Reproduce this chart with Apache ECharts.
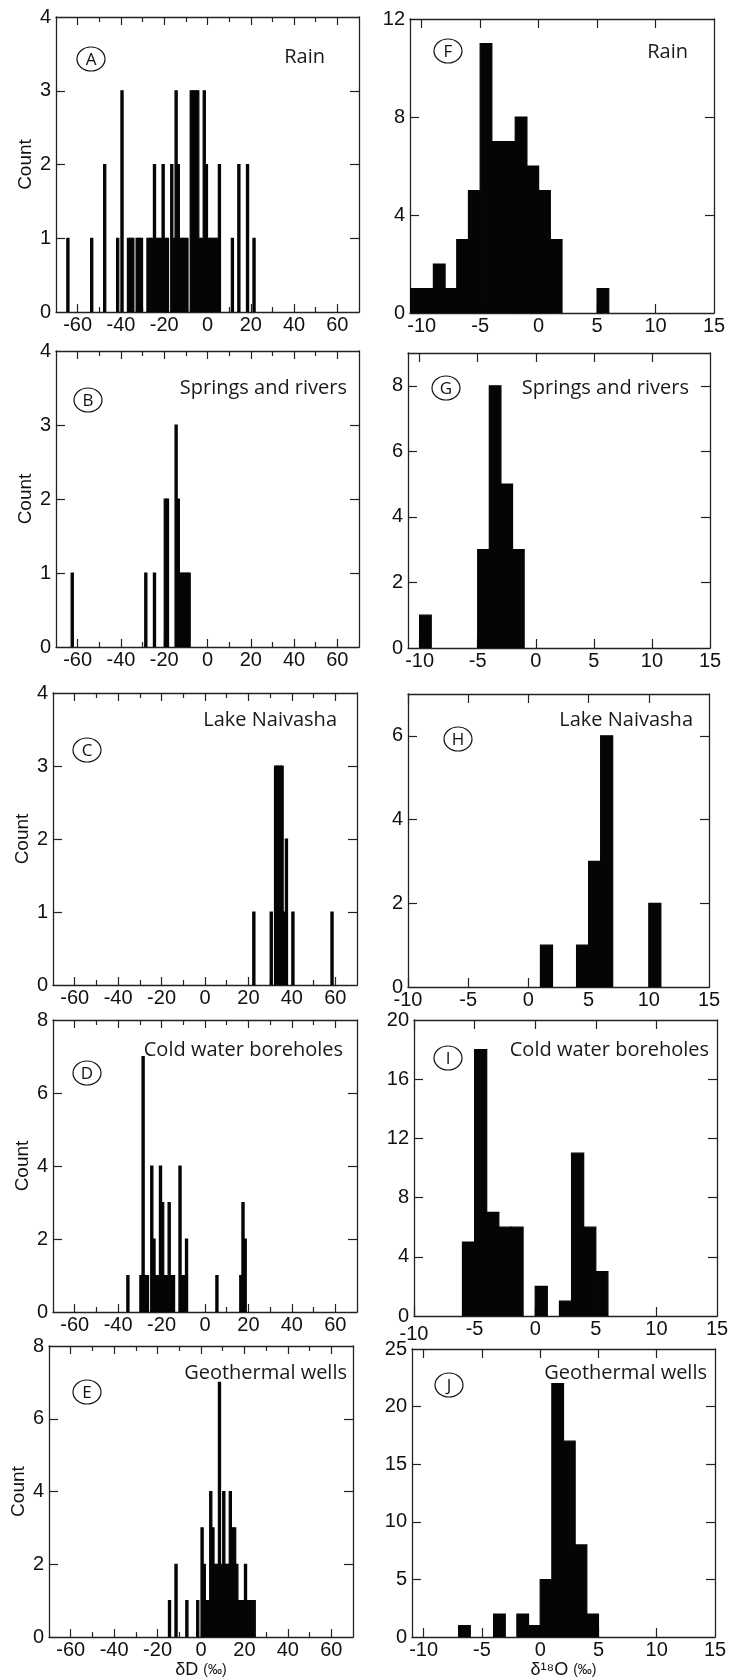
<!DOCTYPE html>
<html><head><meta charset="utf-8">
<script src="https://cdn.jsdelivr.net/npm/echarts@6/dist/echarts.min.js"></script>
<style>html,body{margin:0;padding:0;background:#fff}#c{width:733px;height:1680px}</style>
</head><body><div id="c"></div><script>
// ---------- data (bin left edge, count), bin width = 1 per mil ----------
const rainD_bins   = [-65,-54,-48,-42,-40,-37,-36,-35,-33,-32,-31,-28,-27,-26,-25,-24,-23,-22,-21,-20,-19,-17,-16,-15,-14,-13,-12,-11,-10,-8,-7,-6,-5,-4,-3,-2,-1,0,1,2,3,4,5,11,14,18,21];
const rainD_counts = [  1,  1,  2,  1,  3,  1,  1,  1,  1,  1,  1,  1,  1,  1,  2,  1,  1,  1,  2,  1,  1,  2,  1,  3,  2,  1,  1,  1,  1, 3, 3, 3, 3, 1, 1, 3, 2,1,1,1,1,1,2, 1, 2, 2, 1];
const springsD_bins   = [-63,-29,-25,-20,-19,-15,-14,-13,-12,-11,-10,-9];
const springsD_counts = [  1,  1,  1,  2,  2,  3,  2,  1,  1,  1,  1, 1];
const lakeD_bins   = [22,30,32,33,34,35,36,37,40,58];
const lakeD_counts = [ 1, 1, 3, 3, 3, 3, 1, 2, 1, 1];
const coldD_bins   = [-36,-30,-29,-28,-27,-25,-24,-23,-22,-21,-20,-19,-18,-17,-16,-15,-12,-11,-10,-9,5,16,17,18];
const coldD_counts = [  1,  1,  7,  1,  1,  4,  2,  1,  1,  4,  3,  1,  1,  3,  1,  1,  4,  1,  1, 2,1, 1, 3, 2];
const geoD_bins   = [-15,-12,-7,-2,0,1,2,3,4,5,6,7,8,9,10,11,12,13,14,15,16,17,18,19,20,21,22,23,24];
const geoD_counts = [  1,  2, 1, 1,3,2,1,1,4,3,2,2,7,2, 4, 2, 2, 4, 3, 3, 2, 1, 1, 1, 2, 1, 1, 1, 1];

const rainO_bins   = [-11,-10,-9,-8,-7,-6,-5,-4,-3,-2,-1,0,1,5];
const rainO_counts = [  1,  1, 2, 1, 3, 5,11, 7, 7, 8, 6,5,3,1];
const springsO_bins   = [-10,-5,-4,-3,-2];
const springsO_counts = [  1, 3, 8, 5, 3];
const lakeO_bins   = [1,4,5,6,10];
const lakeO_counts = [1,1,3,6, 2];
const coldO_bins   = [-6,-5,-4,-3,-2,0,2, 3,4,5];
const coldO_counts = [ 5,18, 7, 6, 6,2,1,11,6,3];
const geoO_bins   = [-7,-4,-2,-1,0, 1, 2,3,4];
const geoO_counts = [ 1, 2, 2, 1,5,22,17,8,2];

// ---------- tick labels ----------
const dTickLabels = [-60,-40,-20,0,20,40,60];
const dMajorTicks = [-60,-40,-20,0,20,40,60];
const dMinorTicks = [-50,-30,-10,10,30,50];
const oTickLabels = [-10,-5,0,5,10,15];
const oTicks      = [-10,-5,0,5,10];
const yLabels4 = [0,1,2,3,4],        yTicks4 = [1,2,3];
const yLabels8 = [0,2,4,6,8],        yTicks8 = [2,4,6];
const yLabelsF = [0,4,8,12],         yTicksF = [4,8];
const yLabelsG = [0,2,4,6,8],        yTicksG = [2,4,6,8];
const yLabelsH = [0,2,4,6],          yTicksH = [2,4,6];
const yLabelsI = [0,4,8,12,16,20],   yTicksI = [4,8,12,16];
const yLabelsJ = [0,5,10,15,20,25],  yTicksJ = [5,10,15,20];

const sampleNames = ['Rain','Springs and rivers','Lake Naivasha','Cold water boreholes','Geothermal wells'];
const letters = ['A','B','C','D','E','F','G','H','I','J'];

// ---------- layout ----------
const panels = [
  {bins:rainD_bins, counts:rainD_counts, box:[56,17,303,295], xr:[-70,70], d:true, ymax:4, yl:yLabels4, yt:yTicks4, name:0, tpos:[325,57], cpos:[91,59]},
  {bins:springsD_bins, counts:springsD_counts, box:[56,351,303,296], xr:[-70,70], d:true, ymax:4, yl:yLabels4, yt:yTicks4, name:1, tpos:[347,388], cpos:[88,400]},
  {bins:lakeD_bins, counts:lakeD_counts, box:[53,693,304,292], xr:[-70,70], d:true, ymax:4, yl:yLabels4, yt:yTicks4, name:2, tpos:[337,720], cpos:[87,750]},
  {bins:coldD_bins, counts:coldD_counts, box:[53,1020,304,292], xr:[-70,70], d:true, ymax:8, yl:yLabels8, yt:yTicks8, name:3, tpos:[343,1050], cpos:[87,1073]},
  {bins:geoD_bins, counts:geoD_counts, box:[49,1346,304,296], xr:[-70,70], d:true, ymax:8, yl:yLabels8, yt:yTicks8, name:4, tpos:[347,1373], cpos:[87,1392], xname:'{a|δD }{b|(‰)}'},
  {bins:rainO_bins, counts:rainO_counts, box:[410,19,304,294], xr:[-11,15], ymax:12, yl:yLabelsF, yt:yTicksF, name:0, tpos:[688,52], cpos:[448,51]},
  {bins:springsO_bins, counts:springsO_counts, box:[408,353,302,295], xr:[-11,15], ymax:9, yl:yLabelsG, yt:yTicksG, name:1, tpos:[689,388], cpos:[446,388]},
  {bins:lakeO_bins, counts:lakeO_counts, box:[408,694,301,293], xr:[-10,15], ymax:7, yl:yLabelsH, yt:yTicksH, name:2, tpos:[693,720], cpos:[458,739]},
  {bins:coldO_bins, counts:coldO_counts, box:[414,1020,303,296], xr:[-10,15], ymax:20, yl:yLabelsI, yt:yTicksI, name:3, tpos:[709,1050], cpos:[448,1058], lowFirst:true},
  {bins:geoO_bins, counts:geoO_counts, box:[412,1349,303,294], xr:[-11,15], ymax:25, yl:yLabelsJ, yt:yTicksJ, name:4, tpos:[707,1373], cpos:[449,1385], xname:'{a|δ¹⁸O }{b|(‰)}'}
];

const AX = '#222';
const BAR = '#050505';
const NUMFONT = '"Liberation Sans", Arial, sans-serif';
const TXTFONT = '"Open Sans", "Noto Sans", sans-serif';
const NUMSIZE = 20;

const option = {animation:false, backgroundColor:'#fff', grid:[], xAxis:[], yAxis:[], series:[], graphic:[]};

function tickAxisX(i, p, pos, vals, len) {
  return {type:'value', gridIndex:i, position:pos, min:p.xr[0], max:p.xr[1],
    axisLine:{show:false, onZero:false}, axisLabel:{show:false}, splitLine:{show:false},
    axisTick:{show:true, inside:true, length:len, customValues:vals, lineStyle:{color:AX, width:1.2}}};
}

panels.forEach((p, i) => {
  const [l, t, w, h] = p.box;
  option.grid.push({left:l, top:t, width:w, height:h});
  const majors = p.d ? dMajorTicks : oTicks;
  const labels = p.d ? dTickLabels : oTickLabels;
  const xi = option.xAxis.length;
  const xAxisMain = {type:'value', gridIndex:i, position:'bottom', min:p.xr[0], max:p.xr[1],
    axisLine:{show:true, onZero:false, lineStyle:{color:AX, width:1.3}},
    axisTick:{show:true, inside:true, length:p.d ? 8 : 9, customValues:majors, lineStyle:{color:AX, width:1.2}},
    axisLabel:{show:true, customValues:labels, fontSize:NUMSIZE, color:'#111', margin:3, fontFamily:NUMFONT, showMinLabel:true, showMaxLabel:true},
    splitLine:{show:false}};
  if (p.lowFirst) {
    xAxisMain.axisLabel.formatter = v => (v === -10 ? '{lo|-10}' : String(v));
    xAxisMain.axisLabel.rich = {lo:{fontSize:NUMSIZE, fontFamily:NUMFONT, color:'#111', padding:[5,0,0,0]}};
  }
  if (p.xname) {
    xAxisMain.name = p.xname;
    xAxisMain.nameLocation = 'middle';
    xAxisMain.nameGap = 21;
    xAxisMain.nameTextStyle = {rich:{a:{fontSize:18, fontFamily:NUMFONT, color:'#111'}, b:{fontSize:14, fontFamily:NUMFONT, color:'#111'}}};
  }
  option.xAxis.push(xAxisMain);
  option.xAxis.push({type:'value', gridIndex:i, position:'top', min:p.xr[0], max:p.xr[1],
    axisLine:{show:true, onZero:false, lineStyle:{color:AX, width:1.3}},
    axisTick:{show:true, inside:true, length:p.d ? 8 : 9, customValues:majors, lineStyle:{color:AX, width:1.2}},
    axisLabel:{show:false}, splitLine:{show:false}});
  if (p.d) {
    option.xAxis.push(tickAxisX(i, p, 'bottom', dMinorTicks, 5));
    option.xAxis.push(tickAxisX(i, p, 'top', dMinorTicks, 5));
  }
  const yi = option.yAxis.length;
  const yMain = {type:'value', gridIndex:i, position:'left', min:0, max:p.ymax,
    axisLine:{show:true, onZero:false, lineStyle:{color:AX, width:1.3}},
    axisTick:{show:true, inside:true, length:9, customValues:p.yt, lineStyle:{color:AX, width:1.2}},
    axisLabel:{show:true, customValues:p.yl, fontSize:NUMSIZE, color:'#111', margin:5, fontFamily:NUMFONT, showMinLabel:true, showMaxLabel:true},
    splitLine:{show:false}};
  if (p.d) {
    yMain.name = 'Count';
    yMain.nameLocation = 'middle';
    yMain.nameGap = 21;
    yMain.nameTextStyle = {fontSize:19, fontFamily:NUMFONT, color:'#111'};
  }
  option.yAxis.push(yMain);
  option.yAxis.push({type:'value', gridIndex:i, position:'right', min:0, max:p.ymax,
    axisLine:{show:true, onZero:false, lineStyle:{color:AX, width:1.3}},
    axisTick:{show:true, inside:true, length:9, customValues:p.yt, lineStyle:{color:AX, width:1.2}},
    axisLabel:{show:false}, splitLine:{show:false}});

  option.series.push({type:'custom', xAxisIndex:xi, yAxisIndex:yi, clip:true,
    encode:{x:0, y:1},
    data:p.bins.map((b, k) => [b, p.counts[k]]),
    renderItem:(params, api) => {
      const b = api.value(0), c = api.value(1);
      const p0 = api.coord([b, 0]);
      const p1 = api.coord([b + 1, c]);
      return {type:'rect', shape:{x:p0[0], y:p1[1], width:p1[0] - p0[0], height:p0[1] - p1[1]},
        style:{fill:BAR, stroke:BAR, lineWidth:1.2}};
    }});

  option.graphic.push({type:'text', x:p.tpos[0], y:p.tpos[1],
    style:{text:sampleNames[p.name], font:'20px ' + TXTFONT, fill:'#1a1a1a', align:'right', verticalAlign:'middle'}});
  option.graphic.push({type:'ellipse', shape:{cx:p.cpos[0], cy:p.cpos[1], rx:14, ry:12},
    style:{fill:'none', stroke:'#111', lineWidth:1.2}});
  option.graphic.push({type:'text', x:p.cpos[0], y:p.cpos[1] + 1,
    style:{text:letters[i], font:'17px ' + TXTFONT, fill:'#111', align:'center', verticalAlign:'middle'}});
});

const chart = echarts.init(document.getElementById('c'), null, {renderer:'canvas', width:733, height:1680});
chart.setOption(option);
</script></body></html>
